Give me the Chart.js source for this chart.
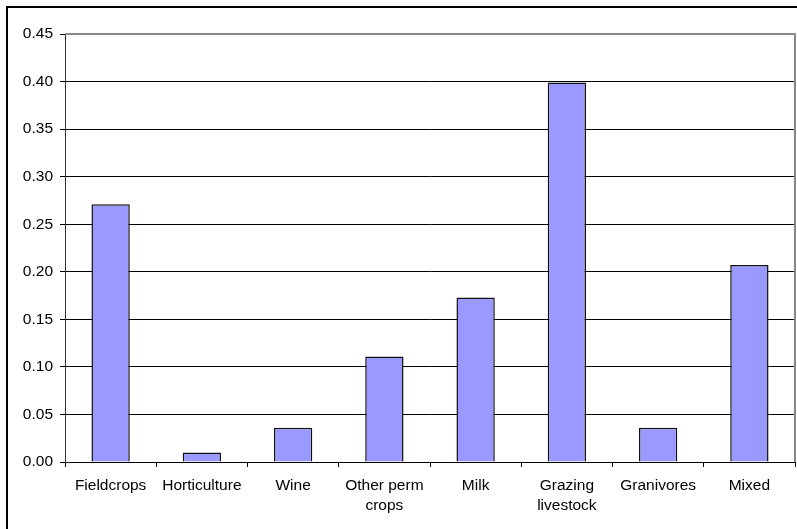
<!DOCTYPE html>
<html>
<head>
<meta charset="utf-8">
<script src="https://cdn.jsdelivr.net/npm/chart.js@4.4.1/dist/chart.umd.min.js"></script>
<style>
  html, body { margin: 0; padding: 0; background: #fff; overflow: hidden; }
  #wrap { position: relative; width: 797px; height: 529px; overflow: hidden; }
  #frame { position: absolute; left: 6px; top: 6px; width: 900px; height: 700px;
           border: 2px solid #000; box-sizing: border-box; pointer-events: none; }
  canvas { position: absolute; left: 0; top: 0; }
</style>
</head>
<body>
<div id="wrap">
  <canvas id="c" width="797" height="529"></canvas>
  <div id="frame"></div>
</div>
<script>
// Farm types and their values
const categories = [
  'Fieldcrops', 'Horticulture', 'Wine', ['Other perm', 'crops'],
  'Milk', ['Grazing', 'livestock'], 'Granivores', 'Mixed'
];
const values = [0.271, 0.010, 0.036, 0.111, 0.173, 0.399, 0.036, 0.207];
const yTicks = [0, 0.05, 0.10, 0.15, 0.20, 0.25, 0.30, 0.35, 0.40, 0.45];

const FONT = { family: "'Liberation Sans', Arial, sans-serif", size: 15.5, lineHeight: 1.34 };

// Thin grey frame on the top and right of the plot area
const plotBorder = {
  id: 'plotBorder',
  afterDraw(chart) {
    const { ctx, chartArea: a } = chart;
    ctx.save();
    ctx.strokeStyle = '#888';
    ctx.lineWidth = 2;
    ctx.beginPath();
    ctx.moveTo(a.left, a.top);
    ctx.lineTo(a.right, a.top);
    ctx.lineTo(a.right, a.bottom);
    ctx.stroke();
    ctx.restore();
  }
};

new Chart(document.getElementById('c'), {
  type: 'bar',
  data: {
    labels: categories,
    datasets: [{
      data: values,
      backgroundColor: '#9999ff',
      borderColor: '#111',
      borderWidth: 1.5,
      categoryPercentage: 1,
      barPercentage: 0.42
    }]
  },
  options: {
    responsive: false,
    animation: false,
    layout: { padding: { left: 0, right: 2, top: 34, bottom: 0 } },
    plugins: { legend: { display: false }, tooltip: { enabled: false } },
    scales: {
      x: {
        offset: true,
        grid: { offset: true, drawOnChartArea: false, drawTicks: true, tickLength: 5, color: '#000' },
        border: { color: '#000', width: 1 },
        ticks: { color: '#000', font: FONT, padding: 8, maxRotation: 0, autoSkip: false },
        afterFit(s) { s.height = 67; }
      },
      y: {
        min: 0, max: 0.45,
        afterBuildTicks(s) { s.ticks = yTicks.map(v => ({ value: v })); },
        grid: { color: '#000', lineWidth: 1, tickLength: 5, drawTicks: true },
        border: { color: '#333', width: 1 },
        ticks: {
          color: '#000', font: FONT, padding: 7,
          callback: v => Number(v).toFixed(2)
        },
        afterFit(s) { s.width = 65; }
      }
    }
  },
  plugins: [plotBorder]
});
</script>
</body>
</html>
